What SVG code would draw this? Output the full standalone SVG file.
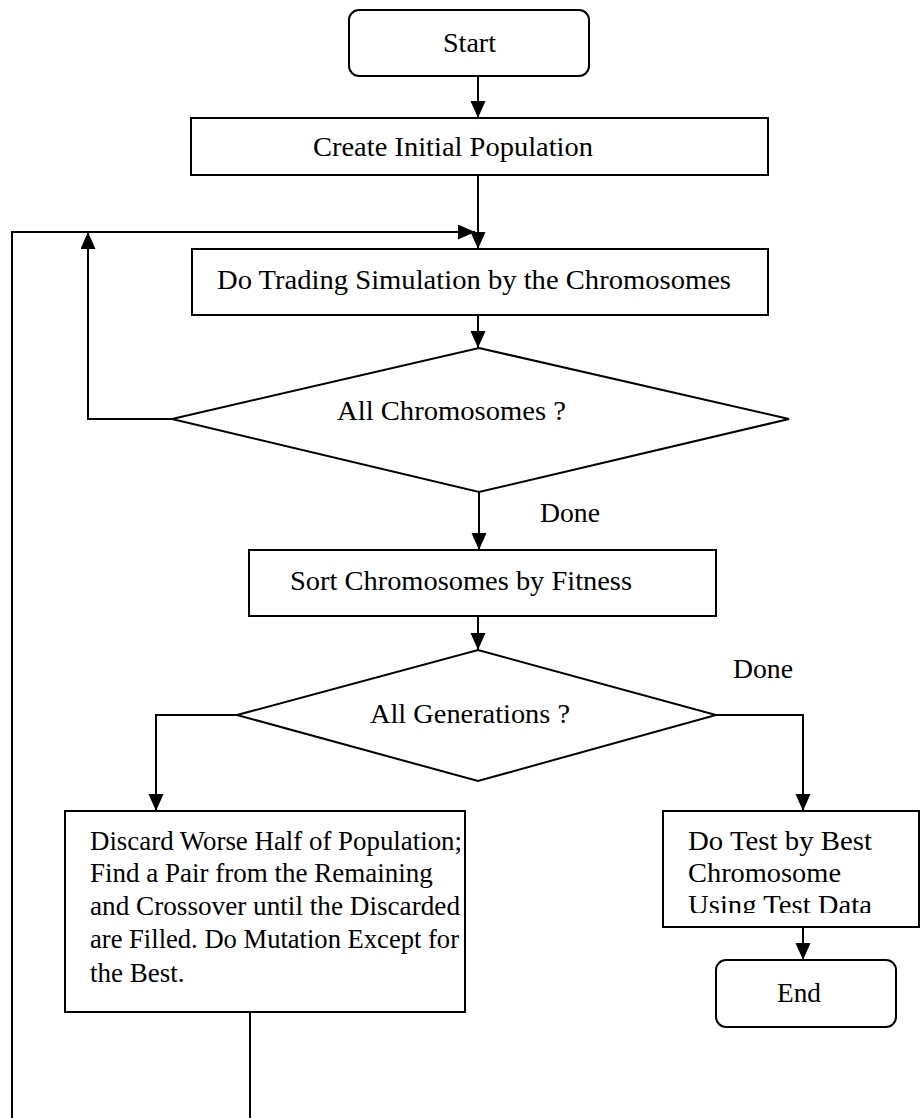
<svg xmlns="http://www.w3.org/2000/svg" width="920" height="1118" viewBox="0 0 920 1118">
<defs>
<style>
.box{fill:#fff;stroke:#000;stroke-width:2}
.dia{fill:none;stroke:#000;stroke-width:2}
.ln{fill:none;stroke:#000;stroke-width:2}
.arr{fill:none;stroke:#000;stroke-width:2;marker-end:url(#ah)}
.t{font-family:"Liberation Serif","Times New Roman",serif;font-size:27px;fill:#000}
.t2{font-family:"Liberation Serif","Times New Roman",serif;font-size:27px;fill:#000}
</style>
<marker id="ah" markerUnits="userSpaceOnUse" markerWidth="18" markerHeight="16" refX="17" refY="7.5" orient="auto">
<path d="M0,0 L17,7.5 L0,15 z" fill="#000"/>
</marker>
<clipPath id="clipTest"><rect x="663" y="811" width="257" height="102"/></clipPath>
</defs>
<rect width="920" height="1118" fill="#fff"/>

<g id="connectors">
<line class="arr" x1="478" y1="76" x2="478" y2="118"/>
<line class="arr" x1="478" y1="175" x2="478" y2="249"/>
<polyline class="arr" points="12,1118 12,232 475,232"/>
<line class="arr" x1="478" y1="315" x2="478" y2="348"/>
<polyline class="arr" points="172,419 88,419 88,232"/>
<line class="arr" x1="479" y1="492" x2="479" y2="550"/>
<line class="arr" x1="478" y1="616" x2="478" y2="650"/>
<polyline class="arr" points="237,715 156,715 156,811"/>
<polyline class="arr" points="716,715 803,715 803,811"/>
<line class="arr" x1="803" y1="927" x2="803" y2="960"/>
<line class="ln" x1="250" y1="1012" x2="250" y2="1118"/>
<text class="t" x="540" y="522" textLength="60" lengthAdjust="spacingAndGlyphs">Done</text>
<text class="t" x="733" y="678" textLength="60" lengthAdjust="spacingAndGlyphs">Done</text>
</g>

<g id="start">
<rect class="box" x="349" y="10" width="240" height="66" rx="10"/>
<text class="t" x="443" y="52" textLength="53" lengthAdjust="spacingAndGlyphs">Start</text>
</g>
<g id="create">
<rect class="box" x="191" y="118" width="577" height="57"/>
<text class="t" x="313" y="156" textLength="280" lengthAdjust="spacingAndGlyphs">Create Initial Population</text>
</g>
<g id="trading">
<rect class="box" x="192" y="249" width="576" height="66"/>
<text class="t" x="217" y="289" textLength="514" lengthAdjust="spacingAndGlyphs">Do Trading Simulation by the Chromosomes</text>
</g>
<g id="allchrom">
<polygon class="dia" points="479,348 789,419 479,492 172,419"/>
<text class="t" x="337" y="420" textLength="229" lengthAdjust="spacingAndGlyphs">All Chromosomes ?</text>
</g>
<g id="sort">
<rect class="box" x="249" y="550" width="467" height="66"/>
<text class="t" x="290" y="590" textLength="342" lengthAdjust="spacingAndGlyphs">Sort Chromosomes by Fitness</text>
</g>
<g id="allgen">
<polygon class="dia" points="478,650 716,715 478,781 237,715"/>
<text class="t" x="370" y="723" textLength="200" lengthAdjust="spacingAndGlyphs">All Generations ?</text>
</g>
<g id="discard">
<rect class="box" x="65" y="811" width="400" height="201"/>
<text class="t2" x="90" y="850" textLength="372" lengthAdjust="spacingAndGlyphs">Discard Worse Half of Population;</text>
<text class="t2" x="90" y="882">Find a Pair from the Remaining</text>
<text class="t2" x="90" y="915" textLength="370" lengthAdjust="spacingAndGlyphs">and Crossover until the Discarded</text>
<text class="t2" x="90" y="948" textLength="369" lengthAdjust="spacingAndGlyphs">are Filled. Do Mutation Except for</text>
<text class="t2" x="90" y="982">the Best.</text>
</g>
<g id="dotest">
<rect class="box" x="663" y="811" width="256" height="116"/>
<g clip-path="url(#clipTest)">
<text class="t" x="688" y="850" textLength="184" lengthAdjust="spacingAndGlyphs">Do Test by Best</text>
<text class="t" x="688" y="882" textLength="153" lengthAdjust="spacingAndGlyphs">Chromosome</text>
<text class="t" x="688" y="914" textLength="184" lengthAdjust="spacingAndGlyphs">Using Test Data</text>
</g>
</g>
<g id="end">
<rect class="box" x="716" y="960" width="180" height="67" rx="10"/>
<text class="t" x="777" y="1002" textLength="44" lengthAdjust="spacingAndGlyphs">End</text>
</g>
</svg>
